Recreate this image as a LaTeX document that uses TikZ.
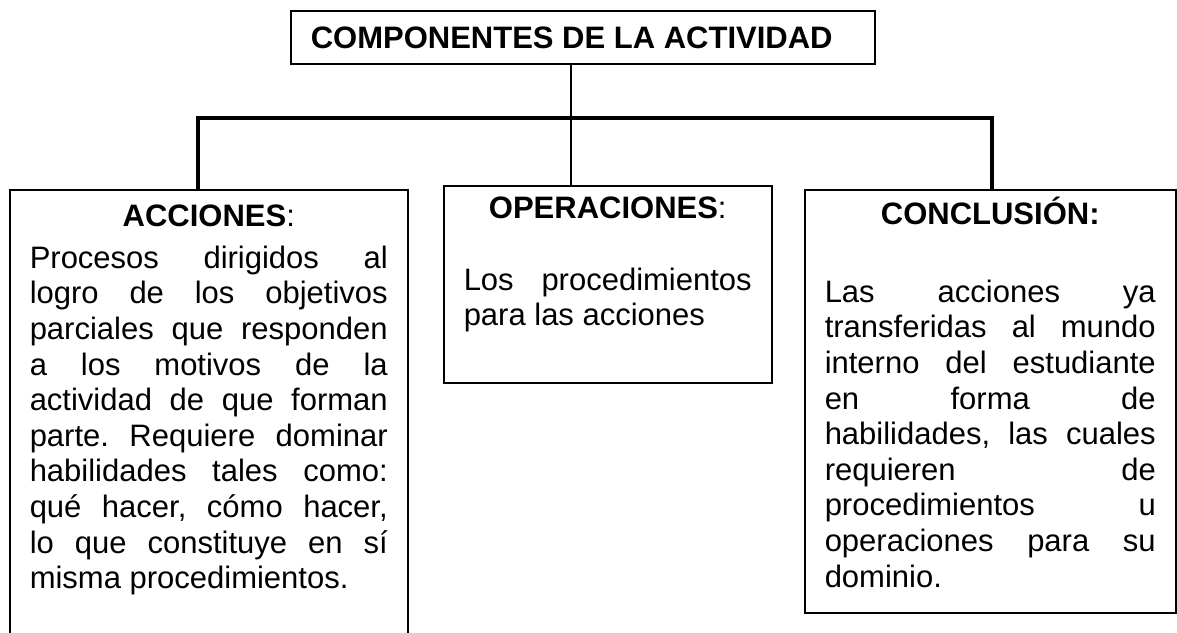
\documentclass[tikz,border=0pt]{standalone}
\usepackage{fontspec}
\setmainfont{Liberation Sans}
\usetikzlibrary{math,calc}
\hyphenpenalty=10000
\exhyphenpenalty=10000
\tolerance=10000
\frenchspacing
% box contents: width, height, text (top aligned)
\newcommand{\cajatexto}[3]{\parbox[c][#2][t]{#1}{#3}}

\begin{document}
\begin{tikzpicture}[x=1pt,y=-1pt,
    caja/.style={draw, line width=1.5pt, anchor=north west, inner xsep=20pt, inner ysep=0pt,
      font=\fontsize{31}{35.6}\selectfont},
    delgada/.style={line width=1.2pt},
    gruesa/.style={line width=4.5pt, line join=miter}]
    \useasboundingbox (0,0) rectangle (1177,632);
    % The title
    \node[caja] (titulo) at (290,10)
      {\cajatexto{544pt}{53pt}{\rule{0pt}{38pt}\textbf{COMPONENTES DE LA ACTIVIDAD}}};
    % The three boxes
    \node[caja] (acciones) at (9,189) {\cajatexto{358pt}{445pt}{%
      \centerline{\rule{0pt}{37pt}\textbf{ACCIONES}:}\vspace{6pt}
      Procesos dirigidos al\linebreak logro de los objetivos\linebreak
      parciales que responden\linebreak a los motivos de la\linebreak
      actividad de que forman\linebreak parte. Requiere dominar\linebreak
      habilidades tales como:\linebreak qué hacer, cómo hacer,\linebreak
      lo que constituye en sí\linebreak misma procedimientos.}};
    \node[caja] (operaciones) at (443,185) {\cajatexto{288pt}{197pt}{%
      \centerline{\rule{0pt}{33pt}\textbf{OPERACIONES}:}\vspace{36pt}
      Los procedimientos\linebreak para las acciones}};
    \node[caja] (conclusion) at (804,189) {\cajatexto{331pt}{423pt}{%
      \centerline{\rule{0pt}{35pt}\textbf{CONCLUSIÓN:}}\vspace{42pt}
      Las acciones ya\linebreak transferidas al mundo\linebreak
      interno del estudiante\linebreak en forma de\linebreak
      habilidades, las cuales\linebreak requieren de\linebreak
      procedimientos u\linebreak operaciones para su\linebreak dominio.}};
    % The connectors
    \coordinate (cruce) at (571,118);
    \draw[delgada] (titulo.south -| cruce) -- (operaciones.north -| cruce);
    \draw[gruesa] ([xshift=-11pt]acciones.north) |- (cruce) -| ([xshift=1.5pt]conclusion.north);
\end{tikzpicture}
\end{document}
